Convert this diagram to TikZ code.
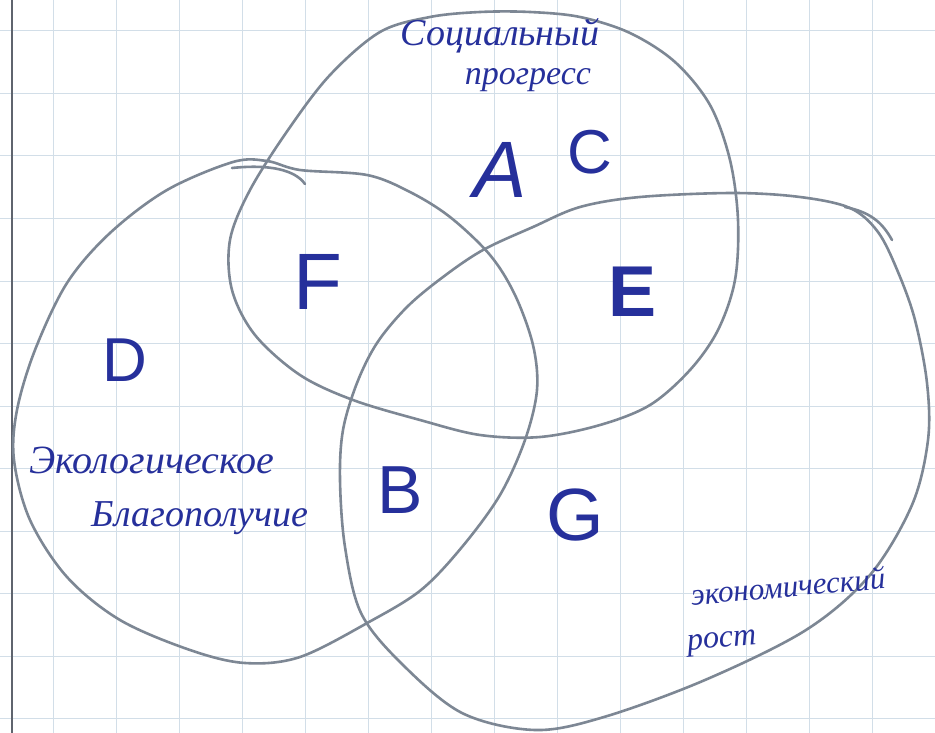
\documentclass[tikz,border=0pt]{standalone}
\usepackage{fontspec}
\setmainfont{Liberation Serif}
\newfontfamily\lettersfont{Liberation Sans}
\definecolor{pen}{RGB}{38,48,155}
\definecolor{pencil}{RGB}{125,135,148}
\definecolor{gridc}{RGB}{210,222,232}
\definecolor{marginc}{RGB}{95,100,110}
\begin{document}
\begin{tikzpicture}[x=1pt,y=-1pt,
  setline/.style={draw=pencil,line width=2.6pt,line join=round,line cap=round},
  lab/.style={text=pen,inner sep=0pt},
  word/.style={text=pen,inner sep=0pt,align=center}]
\useasboundingbox (0,0) rectangle (935,733);
\fill[white] (0,0) rectangle (935,733);
\foreach \x in {53,116,...,935} \draw[gridc,line width=1pt] (\x,0) -- (\x,733);
\foreach \y in {31,93.5,...,733} \draw[gridc,line width=1pt] (0,\y) -- (935,\y);
\draw[marginc,line width=1.6pt] (12,0) -- (12,733);

% social progress (top)
\draw[setline] plot[smooth cycle,tension=0.55] coordinates {
 (380,32) (430,17) (480,12) (530,12) (580,17) (630,33) (675,62) (710,105)
 (730,160) (738,220) (735,280) (718,330) (690,370) (650,405) (600,425)
 (540,437) (480,435) (420,420) (353,400) (300,375) (255,335) (232,290)
 (230,240) (250,190) (288,130) (330,75)};
% ecological well-being (left)
\draw[setline] plot[smooth cycle,tension=0.55] coordinates {
 (233,162) (267,161) (300,170) (367,175) (410,192) (450,217) (490,255)
 (515,295) (533,345) (537,390) (525,440) (500,495) (462,547) (421,590)
 (369,622) (300,657) (245,663) (190,650) (120,620) (67,577) (30,520)
 (14,460) (17,410) (35,350) (67,283) (110,233) (167,190)};
\draw[setline] (232,168) .. controls (270,164) and (295,170) .. (305,184);
% economic growth (right)
\draw[setline] plot[smooth cycle,tension=0.55] coordinates {
 (343,430) (357,383) (377,343) (407,307) (443,277) (483,250) (533,227)
 (580,207) (640,197) (733,193) (800,197) (850,208) (878,232) (898,272)
 (915,320) (927,383) (928,440) (912,505) (870,575) (806,630) (705,680)
 (604,717) (535,730) (462,713) (401,663) (361,613) (345,547) (340,480)};
\draw[setline] (845,207) .. controls (870,212) and (882,222) .. (892,240);

% region letters
\node[lab,font=\lettersfont\itshape\fontsize{80}{80}\selectfont] (A) at (500,170) {A};
\node[lab,font=\lettersfont\fontsize{62}{62}\selectfont] (C) at (590,152) {C};
\node[lab,font=\lettersfont\fontsize{80}{80}\selectfont] (F) at (318,282) {F};
\node[lab,font=\lettersfont\bfseries\fontsize{72}{72}\selectfont] (E) at (633,292) {E};
\node[lab,font=\lettersfont\fontsize{62}{62}\selectfont] (D) at (125,360) {D};
\node[lab,font=\lettersfont\fontsize{68}{68}\selectfont] (B) at (400,490) {B};
\node[lab,font=\lettersfont\fontsize{74}{74}\selectfont] (G) at (575,515) {G};

% set labels
\node[word,font=\itshape\fontsize{38}{38}\selectfont] (soc1) at (500,36) {Социальный};
\node[word,font=\itshape\fontsize{34}{34}\selectfont] (soc2) at (528,80) {прогресс};
\node[word,font=\itshape\fontsize{40}{40}\selectfont] (eco1) at (152,460) {Экологическое};
\node[word,font=\itshape\fontsize{38}{38}\selectfont] (eco2) at (200,518) {Благополучие};
\node[word,font=\itshape\fontsize{31}{31}\selectfont,rotate=5] (econ1) at (788,586) {экономический};
\node[word,font=\itshape\fontsize{32}{32}\selectfont,rotate=5] (econ2) at (722,643) {рост};
\end{tikzpicture}
\end{document}
